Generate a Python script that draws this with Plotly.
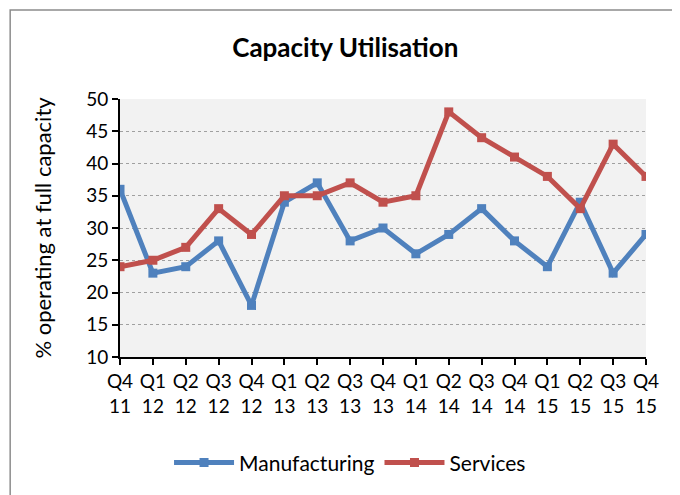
import plotly.graph_objects as go

quarters = ["Q4<br>11", "Q1<br>12", "Q2<br>12", "Q3<br>12", "Q4<br>12", "Q1<br>13", "Q2<br>13",
            "Q3<br>13", "Q4<br>13", "Q1<br>14", "Q2<br>14", "Q3<br>14", "Q4<br>14", "Q1<br>15",
            "Q2<br>15", "Q3<br>15", "Q4<br>15"]
manufacturing = [36, 23, 24, 28, 18, 34, 37, 28, 30, 26, 29, 33, 28, 24, 34, 23, 29]
services = [24, 25, 27, 33, 29, 35, 35, 37, 34, 35, 48, 44, 41, 38, 33, 43, 38]

font = "Lato, Calibri, sans-serif"

fig = go.Figure()
fig.add_trace(go.Scatter(
    x=quarters, y=manufacturing, name="Manufacturing", mode="lines+markers",
    line=dict(color="#4F81BD", width=5),
    marker=dict(symbol="square", size=9, color="#4F81BD"),
))
fig.add_trace(go.Scatter(
    x=quarters, y=services, name="Services", mode="lines+markers",
    line=dict(color="#C0504D", width=5),
    marker=dict(symbol="square", size=9, color="#C0504D"),
))

# page body adds an 8px offset, margins are set to land the plot area where the reference has it
fig.update_layout(
    width=680, height=495,
    margin=dict(l=112, r=42, t=91, b=146),
    paper_bgcolor="white",
    plot_bgcolor="#F2F2F2",
    font=dict(family=font, size=19, color="black"),
    title=dict(text="<b>Capacity Utilisation</b>", x=0.496, xanchor="center",
               y=0.919, yanchor="middle", font=dict(size=26)),
    showlegend=True,
    legend=dict(orientation="h", xref="container", yref="container",
                x=0.503, xanchor="center", y=0.081, yanchor="middle",
                font=dict(size=21), itemwidth=60),
    shapes=[dict(type="rect", xref="paper", yref="paper",
                 x0=-0.2088, x1=1.2, y0=-1.0, y1=1.345,
                 line=dict(color="#8C8C8C", width=1.5), layer="below")],
)

fig.update_xaxes(
    type="category", range=[0, 16],
    showline=True, linecolor="black", linewidth=2,
    ticks="outside", ticklen=6, tickcolor="black", tickwidth=2,
    showgrid=False, tickfont=dict(size=19),
)
fig.update_yaxes(
    range=[10, 50], dtick=5, tick0=10,
    showline=True, linecolor="black", linewidth=2,
    ticks="outside", ticklen=6, tickcolor="black", tickwidth=2,
    showgrid=True, gridcolor="#A0A0A0", griddash="dot", gridwidth=1,
    zeroline=False, tickfont=dict(size=19),
    title=dict(text="% operating at full capacity", font=dict(size=22), standoff=28),
)

fig.write_html("out.html")
